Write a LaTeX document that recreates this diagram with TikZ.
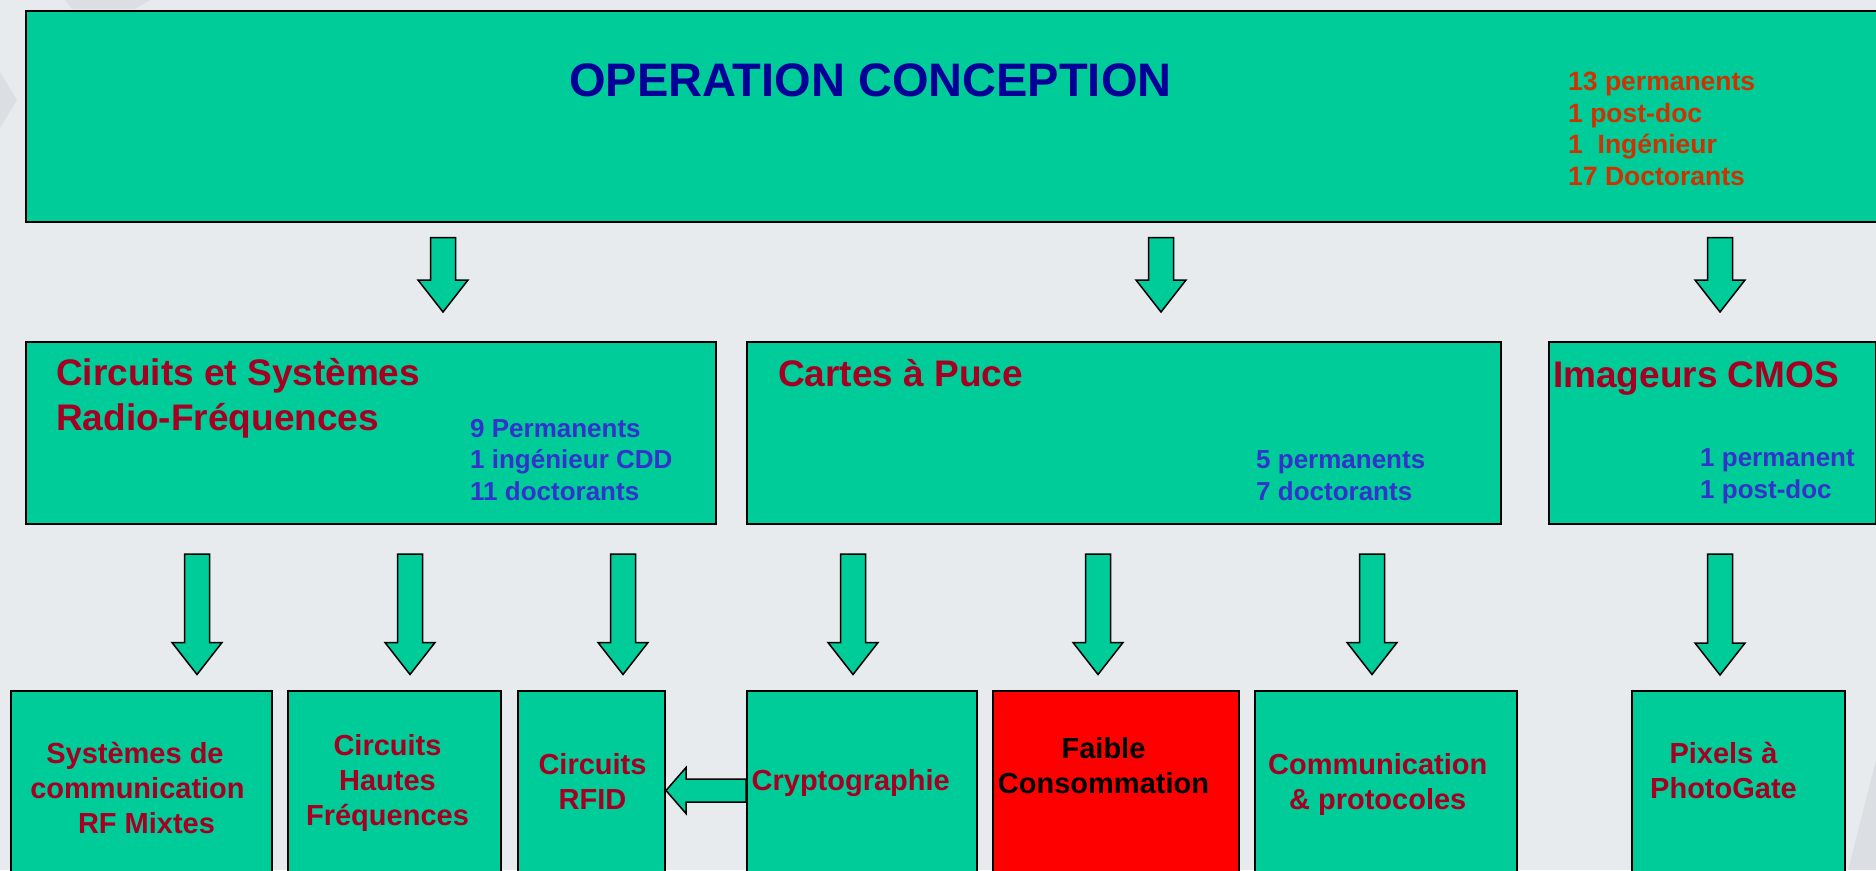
\documentclass[tikz,border=0pt]{standalone}
\usepackage{fontspec}
\setmainfont{Liberation Sans}
\usetikzlibrary{calc}
\definecolor{bg}{RGB}{231,235,238}
\definecolor{wm}{RGB}{219,222,226}
\definecolor{boxgreen}{RGB}{0,204,153}
\definecolor{titleblue}{RGB}{0,0,153}
\definecolor{crimson}{RGB}{165,0,33}
\definecolor{staffblue}{RGB}{51,51,204}
\definecolor{staffred}{RGB}{204,51,0}
\tikzset{
  box/.style={draw=black, line width=2pt, fill=boxgreen, rectangle, anchor=north west, inner sep=0pt},
  blk/.style={draw=black, line width=1.5pt, fill=boxgreen, line join=miter},
  head1/.style={text=crimson, font=\bfseries\fontsize{37}{45}\selectfont, anchor=base west, inner sep=0pt, align=left},
  staff/.style={text=staffblue, font=\bfseries\fontsize{26}{31.5}\selectfont, anchor=base west, inner sep=0pt, align=left},
  lbl2/.style={text=crimson, font=\bfseries\fontsize{29}{35}\selectfont, align=center, inner sep=0pt},
}
% x = pixel column, #2 source node, #3 target node, #4 gap below source, #5 gap above target
\newcommand{\blkdown}[5]{%
  \draw[blk] let \p1=(#2.south), \p2=(#3.north) in
   (#1pt-12.5pt,\y1-#4pt) -- (#1pt+12.5pt,\y1-#4pt) -- (#1pt+12.5pt,\y2+#5pt+32pt)
   -- (#1pt+25pt,\y2+#5pt+32pt) -- (#1pt,\y2+#5pt) -- (#1pt-25pt,\y2+#5pt+32pt)
   -- (#1pt-12.5pt,\y2+#5pt+32pt) -- cycle;}
\begin{document}
\begin{tikzpicture}[x=1pt,y=-1pt]
\useasboundingbox (0,0) rectangle (1876,870);
\clip (0,0) rectangle (1876,870);
\fill[bg] (0,0) rectangle (1876,870);
% faint watermark
\fill[wm] (0,72) -- (17,100) -- (0,128) -- cycle;
\fill[wm] (65,0) -- (150,0) -- (135,9) -- (72,9) -- cycle;
\fill[wm] (1876,760) -- (1876,870) -- (1848,870) -- cycle;

% top box
\node[box, minimum width=1851pt, minimum height=211pt] (top) at (24.5,9.5) {};
\node[text=titleblue, font=\bfseries\fontsize{47}{56}\selectfont, anchor=base west, inner sep=0pt] (title) at (569,96) {OPERATION CONCEPTION};
\node[staff, text=staffred, font=\bfseries\fontsize{26.5}{31.5}\selectfont] (topS) at (1568,185) {13 permanents\\1 post-doc\\1~~Ingénieur\\17 Doctorants};

% level 1 boxes
\node[box, minimum width=690pt, minimum height=182pt] (rf) at (24.5,341) {};
\node[box, minimum width=754pt, minimum height=182pt] (ca) at (745.5,341) {};
\node[box, minimum width=327pt, minimum height=182pt] (im) at (1548,341) {};

\node[head1] (rfT) at (56,430) {Circuits et Systèmes\\Radio-Fréquences};
\node[staff] (rfS) at (470,500) {9 Permanents\\1 ingénieur CDD\\11 doctorants};
\node[head1] (caT) at (778,386) {Cartes à Puce};
\node[staff] (caS) at (1256,500) {5 permanents\\7 doctorants};
\node[head1] (imT) at (1553,387) {Imageurs CMOS};
\node[staff] (imS) at (1700,498) {1 permanent\\1 post-doc};

% level 2 boxes
\node[box, minimum width=261pt, minimum height=200pt] (b1) at (10,689.5) {};
\node[box, minimum width=213pt, minimum height=200pt] (b2) at (287,689.5) {};
\node[box, minimum width=147pt, minimum height=200pt] (b3) at (517,689.5) {};
\node[box, minimum width=229.5pt, minimum height=200pt] (b4) at (746,689.5) {};
\node[box, fill=red, minimum width=246pt, minimum height=200pt] (b5) at (991.5,689.5) {};
\node[box, minimum width=261.5pt, minimum height=200pt] (b6) at (1254,689.5) {};
\node[box, minimum width=213pt, minimum height=200pt] (b7) at (1631,690) {};

\node[lbl2] (t1) at ([xshift=-4pt, yshift=-98pt]b1.north) {Systèmes de\hspace*{5pt}\\communication\\\hspace*{18pt}RF Mixtes};
\node[lbl2] (t2) at ([xshift=-7pt, yshift=-93pt]b2.north) {Circuits\\Hautes\\Fréquences};
\node[lbl2] (t3) at ([xshift=1pt, yshift=-91.5pt]b3.north) {Circuits\\RFID};
\node[lbl2] (t4) at ([xshift=-11pt, yshift=-94pt]b4.north) {Cryptographie};
\node[lbl2, text=black] (t5) at ([xshift=-12pt, yshift=-76pt]b5.north) {Faible\\Consommation};
\node[lbl2] (t6) at ([xshift=-8pt, yshift=-94.5pt]b6.north) {Communication\\\& protocoles};
\node[lbl2] (t7) at ([xshift=-15pt, yshift=-80pt]b7.north) {Pixels à\\PhotoGate};

% block arrows
\blkdown{443}{top}{rf}{15}{29}
\blkdown{1161}{top}{ca}{15}{29}
\blkdown{1720}{top}{im}{15}{29}
\blkdown{197}{rf}{b1}{29}{15}
\blkdown{410}{rf}{b2}{29}{15}
\blkdown{623}{rf}{b3}{29}{15}
\blkdown{853}{ca}{b4}{29}{15}
\blkdown{1098}{ca}{b5}{29}{15}
\blkdown{1372}{ca}{b6}{29}{15}
\blkdown{1720}{im}{b7}{29}{15}

\draw[blk] let \p1=(b4.west), \p2=(b3.east) in
  (\x1,\y2+11.5pt) -- (\x2+20pt,\y2+11.5pt) -- (\x2+20pt,\y2+23pt) -- (\x2,\y2)
  -- (\x2+20pt,\y2-23pt) -- (\x2+20pt,\y2-11.5pt) -- (\x1,\y2-11.5pt) -- cycle;
\end{tikzpicture}
\end{document}
